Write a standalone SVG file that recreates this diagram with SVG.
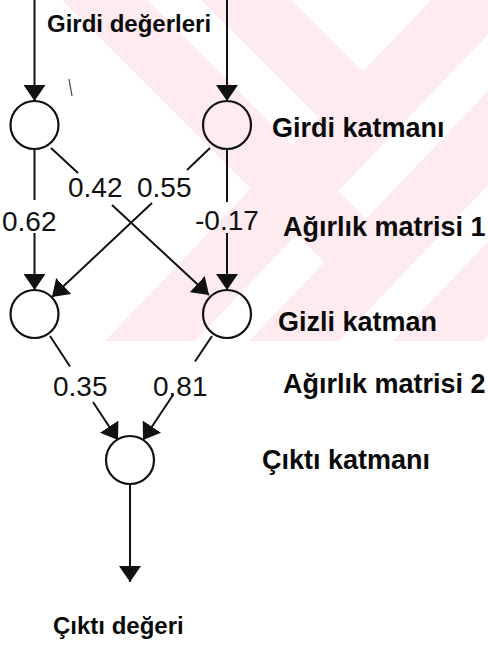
<svg xmlns="http://www.w3.org/2000/svg" width="488" height="648" viewBox="0 0 488 648">
  <style>
    .node circle { fill: none; stroke: #111; stroke-width: 2.2; }
    .edge { stroke: #111; stroke-width: 2; fill: none; }
    .head { marker-end: url(#arrow); }
    .layer { font-family: "Liberation Sans", Arial, sans-serif; font-weight: bold; font-size: 27px; fill: #0a0a0a; }
    .io { font-family: "Liberation Sans", Arial, sans-serif; font-weight: bold; font-size: 24px; fill: #0a0a0a; }
    .w { font-family: "Liberation Sans", Arial, sans-serif; font-size: 28px; fill: #111; }
    .wm { fill: #fdebef; }
  </style>
  <defs>
    <marker id="arrow" markerUnits="userSpaceOnUse" markerWidth="16" markerHeight="22" viewBox="0 0 16 22" refX="16" refY="11" orient="auto">
      <path d="M0,0 L16,11 L0,22 Z" fill="#111"/>
    </marker>
    <clipPath id="wmclip"><rect x="0" y="0" width="488" height="341"/></clipPath>
  </defs>

  <rect width="488" height="648" fill="#fff"/>

  <!-- pale background emblem: nested chevrons with rising stripes -->
  <g id="watermark" class="wm" clip-path="url(#wmclip)">
    <polygon points="201,0 291,0 362.6,71.6 364.6,163.6"/>
    <polygon points="431,0 521,0 195,341 105,341"/>
    <polygon points="62,0 147,0 366,219 368,306"/>
    <polygon points="575,0 665,0 339,341 249,341"/>
    <polygon points="719,0 809,0 483,341 393,341"/>
  </g>

  <!-- connectors -->
  <g id="connectors">
    <line class="edge head" x1="34.5" y1="0" x2="34.5" y2="101"/>
    <line class="edge head" x1="227" y1="0" x2="227" y2="101"/>
    <line class="edge" x1="34.5" y1="149" x2="34.5" y2="200"/>
    <line class="edge head" x1="34.5" y1="233" x2="34.5" y2="290"/>
    <line class="edge" x1="227" y1="149" x2="227" y2="202"/>
    <line class="edge head" x1="227" y1="233" x2="227" y2="290"/>
    <line class="edge" x1="51" y1="148" x2="78" y2="173"/>
    <line class="edge head" x1="112" y1="205" x2="209" y2="295"/>
    <line class="edge" x1="210" y1="148" x2="187" y2="170"/>
    <line class="edge head" x1="152" y1="203" x2="52" y2="297"/>
    <line class="edge" x1="50" y1="336" x2="70" y2="366.5"/>
    <line class="edge head" x1="93" y1="402" x2="118" y2="440"/>
    <line class="edge" x1="212" y1="336" x2="195" y2="361.5"/>
    <line class="edge head" x1="173" y1="395" x2="143" y2="440"/>
    <line class="edge head" x1="130" y1="484" x2="130" y2="582"/>
    <line x1="69" y1="79" x2="72" y2="96" stroke="#444" stroke-width="1.2"/>
  </g>

  <!-- weights -->
  <g id="weights">
    <text class="w" x="2" y="231">0.62</text>
    <text class="w" x="68" y="197">0.42</text>
    <text class="w" x="137" y="197">0.55</text>
    <text class="w" x="195" y="230">-0.17</text>
    <text class="w" x="53" y="396">0.35</text>
    <text class="w" x="153" y="396">0.81</text>
  </g>

  <!-- neurons -->
  <g id="input-1" class="node"><circle cx="34.5" cy="125" r="24"/></g>
  <g id="input-2" class="node"><circle cx="227" cy="125" r="24"/></g>
  <g id="hidden-1" class="node"><circle cx="34.5" cy="314" r="24"/></g>
  <g id="hidden-2" class="node"><circle cx="227" cy="314" r="24"/></g>
  <g id="output" class="node"><circle cx="130" cy="460" r="24"/></g>

  <!-- captions -->
  <g id="captions">
    <text class="io" x="47" y="32">Girdi değerleri</text>
    <text class="layer" x="272" y="137">Girdi katmanı</text>
    <text class="layer" x="283" y="236">Ağırlık matrisi 1</text>
    <text class="layer" x="278" y="331">Gizli katman</text>
    <text class="layer" x="283" y="393">Ağırlık matrisi 2</text>
    <text class="layer" x="262" y="469">Çıktı katmanı</text>
    <text class="io" x="53" y="634">Çıktı değeri</text>
  </g>
</svg>
